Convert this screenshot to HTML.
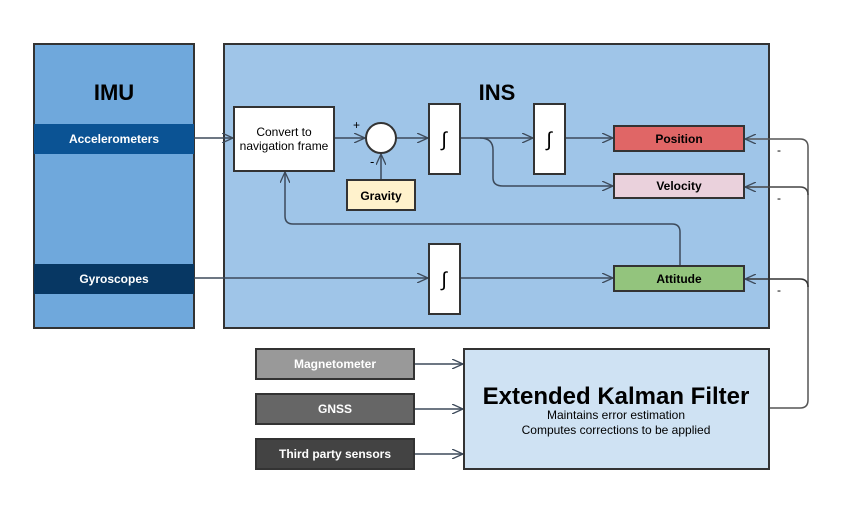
<!DOCTYPE html>
<html><head><meta charset="utf-8"><style>
html,body{margin:0;padding:0;background:#fff;}
svg{display:block;font-family:"Liberation Sans",Arial,sans-serif;}
</style></head><body>
<svg width="850" height="510" viewBox="0 0 850 510" xmlns="http://www.w3.org/2000/svg">
<defs>
<marker id="a" markerWidth="12" markerHeight="10" refX="11" refY="5" orient="auto" markerUnits="userSpaceOnUse">
<path d="M0,0 L11,5 L0,10" fill="none" stroke="#3d4a5a" stroke-width="1.3"/>
</marker>
</defs>
<rect x="34" y="44" width="160" height="284" fill="#6fa8dc" stroke="#333" stroke-width="2"/>
<text x="114" y="100" text-anchor="middle" font-size="22" font-weight="bold">IMU</text>
<rect x="34" y="124" width="160" height="30" fill="#0b5394"/>
<text x="114" y="143" text-anchor="middle" font-size="12" font-weight="bold" fill="#fff">Accelerometers</text>
<rect x="34" y="264" width="160" height="30" fill="#073763"/>
<text x="114" y="283" text-anchor="middle" font-size="12" font-weight="bold" fill="#fff">Gyroscopes</text>
<rect x="224" y="44" width="545" height="284" fill="#9fc5e8" stroke="#333" stroke-width="2"/>
<text x="497" y="100" text-anchor="middle" font-size="22" font-weight="bold">INS</text>
<g fill="none" stroke="#3d4a5a" stroke-width="1.5">
<path d="M194,138 H233" marker-end="url(#a)"/>
<path d="M334,138 H365" marker-end="url(#a)"/>
<path d="M381,180 V154" marker-end="url(#a)"/>
<path d="M396,138 H428" marker-end="url(#a)"/>
<path d="M460,138 H533" marker-end="url(#a)"/>
<path d="M565,138 H613" marker-end="url(#a)"/>
<path d="M480,138 Q493,138 493,150 V178 Q493,186 503,186 H613" marker-end="url(#a)"/>
<path d="M194,278 H428" marker-end="url(#a)"/>
<path d="M460,278 H613" marker-end="url(#a)"/>
<path d="M680,266 V232 Q680,224 672,224 H293 Q285,224 285,216 V172" marker-end="url(#a)"/>
<path d="M414,364 H463" marker-end="url(#a)"/>
<path d="M414,409 H463" marker-end="url(#a)"/>
<path d="M414,454 H463" marker-end="url(#a)"/>
</g>
<g fill="none" stroke-width="1.5">
<path d="M769,408 H800 Q808,408 808,400 V147 Q808,139 800,139 H745" marker-end="url(#a)" stroke="#555"/>
<path d="M808,195 Q808,187 800,187 H745" marker-end="url(#a)" stroke="#444"/>
<path d="M808,287 Q808,279 800,279 H745" marker-end="url(#a)" stroke="#333"/>
</g>
<g font-size="12"><text x="777" y="154">-</text><text x="777" y="202">-</text><text x="777" y="294">-</text></g>
<rect x="234" y="107" width="100" height="64" fill="#fff" stroke="#333" stroke-width="2"/>
<text x="284" y="136" text-anchor="middle" font-size="12">Convert to</text>
<text x="284" y="150" text-anchor="middle" font-size="12">navigation frame</text>
<circle cx="381" cy="138" r="15" fill="#fff" stroke="#333" stroke-width="2"/>
<text x="353" y="129" font-size="12">+</text>
<text x="370" y="166" font-size="13">-</text>
<rect x="347" y="180" width="68" height="30" fill="#fff2cc" stroke="#333" stroke-width="2"/>
<text x="381" y="200" text-anchor="middle" font-size="12" font-weight="bold">Gravity</text>
<g fill="#fff" stroke="#333" stroke-width="2">
<rect x="429" y="104" width="31" height="70"/><rect x="534" y="104" width="31" height="70"/><rect x="429" y="244" width="31" height="70"/>
</g>
<g font-size="20" text-anchor="middle"><text x="444" y="146">∫</text><text x="549" y="146">∫</text><text x="444" y="286">∫</text></g>
<rect x="614" y="126" width="130" height="25" fill="#e06666" stroke="#333" stroke-width="2"/>
<text x="679" y="143" text-anchor="middle" font-size="12" font-weight="bold">Position</text>
<rect x="614" y="174" width="130" height="24" fill="#ead1dc" stroke="#333" stroke-width="2"/>
<text x="679" y="190" text-anchor="middle" font-size="12" font-weight="bold">Velocity</text>
<rect x="614" y="266" width="130" height="25" fill="#93c47d" stroke="#333" stroke-width="2"/>
<text x="679" y="283" text-anchor="middle" font-size="12" font-weight="bold">Attitude</text>
<rect x="256" y="349" width="158" height="30" fill="#999" stroke="#333" stroke-width="2"/>
<text x="335" y="368" text-anchor="middle" font-size="12" font-weight="bold" fill="#fff">Magnetometer</text>
<rect x="256" y="394" width="158" height="30" fill="#666" stroke="#333" stroke-width="2"/>
<text x="335" y="413" text-anchor="middle" font-size="12" font-weight="bold" fill="#fff">GNSS</text>
<rect x="256" y="439" width="158" height="30" fill="#434343" stroke="#333" stroke-width="2"/>
<text x="335" y="458" text-anchor="middle" font-size="12" font-weight="bold" fill="#fff">Third party sensors</text>
<rect x="464" y="349" width="305" height="120" fill="#cfe2f3" stroke="#333" stroke-width="2"/>
<text x="616" y="404" text-anchor="middle" font-size="24" font-weight="bold">Extended Kalman Filter</text>
<text x="616" y="419" text-anchor="middle" font-size="12">Maintains error estimation</text>
<text x="616" y="434" text-anchor="middle" font-size="12">Computes corrections to be applied</text>
</svg>
</body></html>
